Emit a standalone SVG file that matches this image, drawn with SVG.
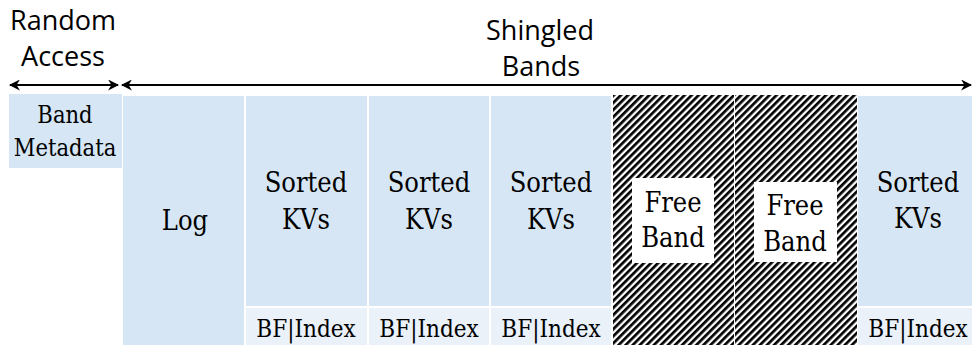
<svg xmlns="http://www.w3.org/2000/svg" width="972" height="345" viewBox="0 0 972 345">
<style>
.blk{fill:#D6E6F4}
.idx{fill:#EAF1F9}
.hd{font-family:"Open Sans","Liberation Sans",sans-serif;font-size:27px;fill:#000;text-anchor:middle}
.sr{font-family:"DejaVu Serif","Liberation Serif",serif;font-stretch:condensed;font-size:27px;fill:#000;text-anchor:middle}
.sm{font-size:23.5px}
.ix{font-size:24px}
.ar{stroke:#000;stroke-width:2;fill:none}
</style>
<defs>
<pattern id="hatch" patternUnits="userSpaceOnUse" width="5" height="8" patternTransform="rotate(45)">
<rect width="5" height="8" fill="#fff"/>
<rect width="2.7" height="8" fill="#000"/>
</pattern>
<marker id="ah" viewBox="0 0 10 10" refX="9" refY="5" markerWidth="5.5" markerHeight="5.5" orient="auto-start-reverse" markerUnits="strokeWidth">
<path d="M0,0 L10,5 L0,10 L3,5 Z" fill="#000"/>
</marker>
</defs>
<g id="labels">
<text class="hd" x="63" y="30">Random</text>
<text class="hd" x="63" y="66">Access</text>
<text class="hd" x="540" y="40">Shingled</text>
<text class="hd" x="541" y="76">Bands</text>
</g>
<g id="connectors">
<line class="ar" x1="10" y1="85" x2="118" y2="85" marker-start="url(#ah)" marker-end="url(#ah)"/>
<line class="ar" x1="122" y1="85" x2="971" y2="85" marker-start="url(#ah)" marker-end="url(#ah)"/>
</g>
<g id="band-metadata">
<rect class="blk" x="9" y="94" width="113" height="74"/>
<text class="sr sm" x="65" y="123">Band</text>
<text class="sr sm" x="65" y="156">Metadata</text>
</g>
<g id="log">
<rect class="blk" x="123" y="96" width="121" height="249"/>
<text class="sr" x="185" y="230">Log</text>
</g>
<g id="sorted1">
<rect class="blk" x="246" y="96" width="121" height="210"/>
<rect class="idx" x="246" y="308" width="121" height="37"/>
<text class="sr" x="306" y="192">Sorted</text>
<text class="sr" x="306" y="229">KVs</text>
<text class="sr ix" x="306" y="337">BF|Index</text>
</g>
<g id="sorted2">
<rect class="blk" x="369" y="96" width="120" height="210"/>
<rect class="idx" x="369" y="308" width="120" height="37"/>
<text class="sr" x="429" y="192">Sorted</text>
<text class="sr" x="429" y="229">KVs</text>
<text class="sr ix" x="429" y="337">BF|Index</text>
</g>
<g id="sorted3">
<rect class="blk" x="491" y="96" width="120" height="210"/>
<rect class="idx" x="491" y="308" width="120" height="37"/>
<text class="sr" x="551" y="192">Sorted</text>
<text class="sr" x="551" y="229">KVs</text>
<text class="sr ix" x="551" y="337">BF|Index</text>
</g>
<g id="free1">
<rect x="613" y="95" width="121" height="250" fill="url(#hatch)"/>
<rect x="632" y="178" width="82" height="85" fill="#fff"/>
<text class="sr" x="673" y="212">Free</text>
<text class="sr" x="673" y="247">Band</text>
</g>
<g id="free2">
<rect x="735" y="95" width="122" height="250" fill="url(#hatch)"/>
<rect x="754" y="182" width="83" height="80" fill="#fff"/>
<text class="sr" x="795" y="215">Free</text>
<text class="sr" x="795" y="251">Band</text>
</g>
<g id="sorted4">
<rect class="blk" x="858" y="96" width="114" height="210"/>
<rect class="idx" x="858" y="308" width="114" height="37"/>
<text class="sr" x="918" y="192">Sorted</text>
<text class="sr" x="918" y="228">KVs</text>
<text class="sr ix" x="918" y="337">BF|Index</text>
</g>
</svg>
